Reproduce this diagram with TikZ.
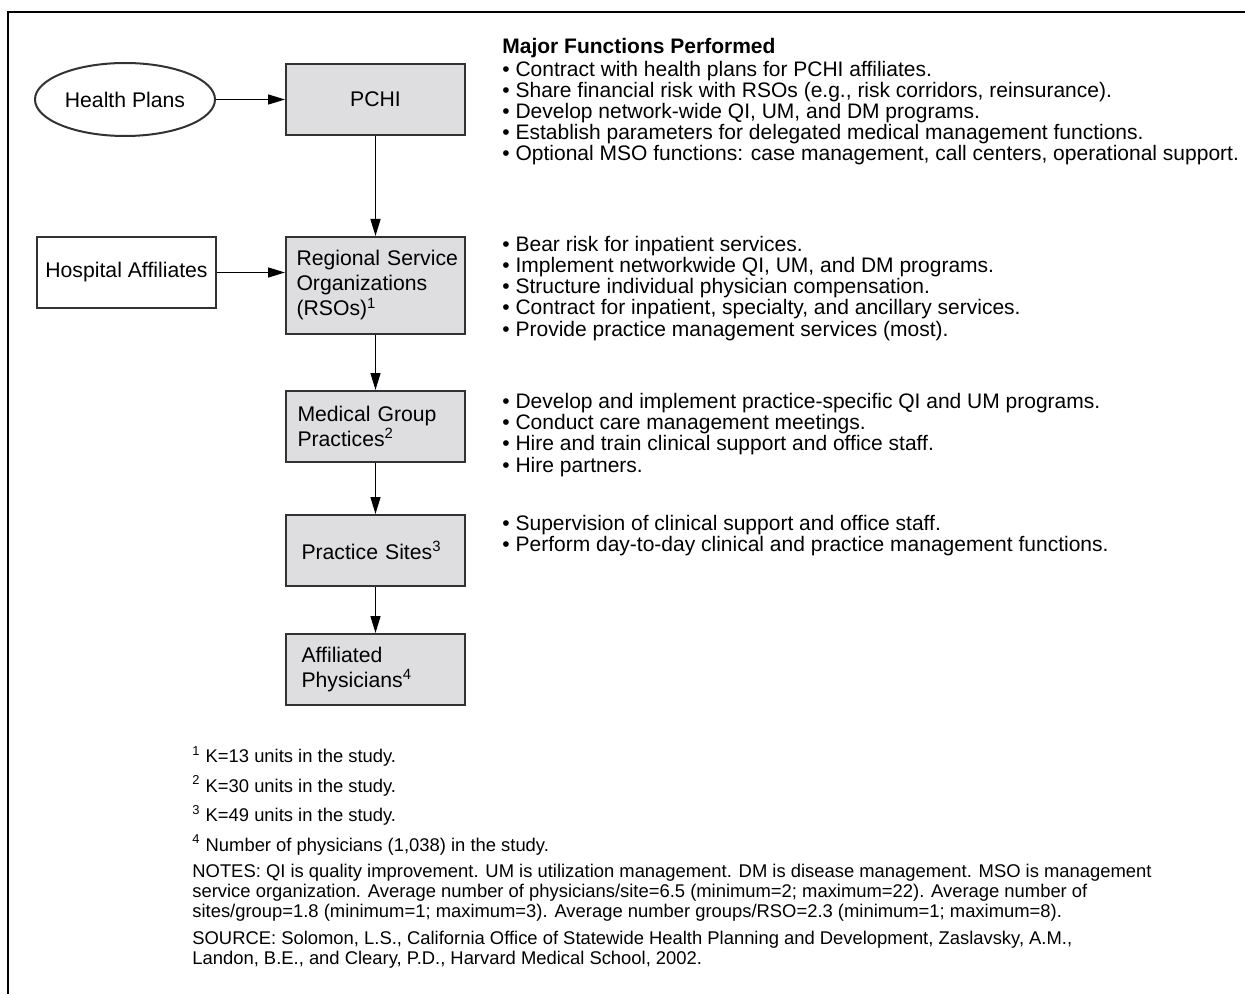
\documentclass[tikz,border=0pt]{standalone}
\usepackage{fontspec}
\setmainfont{Liberation Sans}
\usepackage{xcolor}
\usepackage{tikz}
\usetikzlibrary{arrows.meta, positioning, shapes.geometric}
\definecolor{boxgray}{RGB}{222,222,224}
\definecolor{edgegray}{RGB}{50,50,50}

\begin{document}
\begin{tikzpicture}[x=0.5pt, y=-0.5pt,
    orgbox/.style={draw=edgegray, line width=1pt, fill=boxgray, minimum width=89.5pt,
        minimum height=35.5pt, inner sep=0pt, text width=84pt, align=left,
        font=\fontsize{10.6}{12.5}\selectfont},
    sidebox/.style={draw=edgegray, line width=1pt, minimum width=89.5pt,
        minimum height=35.5pt, inner sep=0pt, font=\fontsize{10.6}{12.5}\selectfont},
    conn/.style={-{Triangle[length=8.5pt,width=5pt]}, line width=0.7pt},
    funcs/.style={anchor=base west, inner sep=0pt, align=left,
        font=\fontsize{10.5}{10.6}\selectfont},
    notes/.style={anchor=base west, inner sep=0pt, align=left,
        font=\fontsize{9.2}{9.9}\selectfont}]
    \useasboundingbox (0,0) rectangle (1245,994);
    \draw[line width=1pt] (8,994) -- (8,12) -- (1245,12);

    \node[sidebox, ellipse, minimum width=90pt, minimum height=36.5pt] (plans) at (125,99.5) {Health Plans};
    \node[orgbox, align=center] (pchi) at (375.5,99.5) {PCHI};
    \node[sidebox] (hosp) at (126.5,272.5) {Hospital Affiliates};
    \node[orgbox, minimum height=48.5pt] (rso) at (375.5,285.5)
        {\hspace{2.5pt}Regional Service\\\hspace{2.5pt}Organizations\\\hspace{2.5pt}(RSOs)\textsuperscript{1}};
    \node[orgbox] (groups) at (375.5,426.5) {\hspace{3pt}Medical Group\\\hspace{3pt}Practices\textsuperscript{2}};
    \node[orgbox] (sites) at (375.5,550.5) {\hspace{5pt}Practice Sites\textsuperscript{3}};
    \node[orgbox] (phys) at (375.5,669.5) {\hspace{5pt}Affiliated\\\hspace{5pt}Physicians\textsuperscript{4}};

    \draw[conn] (plans) -- (pchi);
    \draw[conn] (hosp.east) -- (hosp.east -| rso.west);
    \draw[conn] (pchi) -- (rso);
    \draw[conn] (rso) -- (groups);
    \draw[conn] (groups) -- (sites);
    \draw[conn] (sites) -- (phys);

    % nodes below sit on the baseline of their last line
    \node[funcs, font=\fontsize{10.5}{10.6}\selectfont\bfseries] (head) at (502,54) {Major Functions Performed};
    \node[funcs] (pchifn) at (502,161) {• Contract with health plans for PCHI affiliates.\\
        • Share financial risk with RSOs (e.g., risk corridors, reinsurance).\\
        • Develop network-wide QI, UM, and DM programs.\\
        • Establish parameters for delegated medical management functions.\\
        • Optional MSO functions: case management, call centers, operational support.};
    \node[funcs] (rsofn) at (502,336) {• Bear risk for inpatient services.\\
        • Implement networkwide QI, UM, and DM programs.\\
        • Structure individual physician compensation.\\
        • Contract for inpatient, specialty, and ancillary services.\\
        • Provide practice management services (most).};
    \node[funcs] (groupsfn) at (502,472) {• Develop and implement practice-specific QI and UM programs.\\
        • Conduct care management meetings.\\
        • Hire and train clinical support and office staff.\\
        • Hire partners.};
    \node[funcs] (sitesfn) at (502,551.5) {• Supervision of clinical support and office staff.\\
        • Perform day-to-day clinical and practice management functions.};

    \node[notes] (foot) at (192,964) {\textsuperscript{1} K=13 units in the study.\\[3.5pt]
        \textsuperscript{2} K=30 units in the study.\\[3.5pt]
        \textsuperscript{3} K=49 units in the study.\\[3.5pt]
        \textsuperscript{4} Number of physicians (1,038) in the study.\\[3.5pt]
        NOTES: QI is quality improvement. UM is utilization management. DM is disease management. MSO is management\\
        service organization. Average number of physicians/site=6.5 (minimum=2; maximum=22). Average number of\\
        sites/group=1.8 (minimum=1; maximum=3). Average number groups/RSO=2.3 (minimum=1; maximum=8).\\[3.5pt]
        SOURCE: Solomon, L.S., California Office of Statewide Health Planning and Development, Zaslavsky, A.M.,\\
        Landon, B.E., and Cleary, P.D., Harvard Medical School, 2002.};
\end{tikzpicture}
\end{document}
